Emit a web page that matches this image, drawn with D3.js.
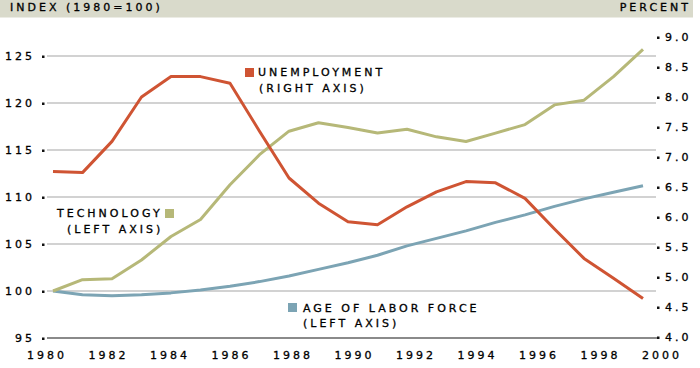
<!DOCTYPE html>
<html>
<head>
<meta charset="utf-8">
<script src="https://cdn.jsdelivr.net/npm/d3@7"></script>
<style>
  body { margin: 0; background: #fff; }
  svg { display: block; }
  text { font-family: "DejaVu Sans", sans-serif; font-size: 11px; fill: #000; stroke: #000; stroke-width: 0.3px; letter-spacing: 3px; }
</style>
</head>
<body>
<div id="plotSect"></div>
<script>
/* global d3 */

// data //

let years = [1980, 1981, 1982, 1983, 1984, 1985, 1986, 1987, 1988, 1989, 1990,
             1991, 1992, 1993, 1994, 1995, 1996, 1997, 1998, 1999, 2000];

// right axis, percent
let unemployment = [6.76, 6.74, 7.26, 8.0, 8.34, 8.34, 8.23, 7.43, 6.65, 6.23, 5.92,
                    5.87, 6.17, 6.42, 6.59, 6.57, 6.31, 5.8, 5.31, 4.98, 4.64];

// left axis, index 1980=100
let technology = [100.0, 101.2, 101.3, 103.3, 105.8, 107.6, 111.3, 114.5, 117.0, 117.9, 117.4,
                  116.8, 117.2, 116.4, 115.9, 116.8, 117.7, 119.8, 120.3, 122.8, 125.7];

let ageLabor = [100.0, 99.6, 99.5, 99.6, 99.8, 100.1, 100.5, 101.0, 101.6, 102.3, 103.0,
                103.8, 104.8, 105.6, 106.4, 107.3, 108.1, 109.0, 109.8, 110.5, 111.2];

let xTickLabels = [1980, 1982, 1984, 1986, 1988, 1990, 1992, 1994, 1996, 1998, 2000];
let leftTicks = [95, 100, 105, 110, 115, 120, 125];
let rightTicks = [4.0, 4.5, 5.0, 5.5, 6.0, 6.5, 7.0, 7.5, 8.0, 8.5, 9.0];

// chart setup //

let SVGwidth = 700,
    SVGheight = 368;

let colRed = "#cf5433",
    colOlive = "#b6b878",
    colBlue = "#7ca4b4";

let svg = d3.select("#plotSect").append("svg")
    .attr("width", SVGwidth)
    .attr("height", SVGheight);

// data points sit a little inside the year labels
let xScale = d3.scaleLinear().domain([1980, 2000]).range([53, 643]);
let xLabelScale = d3.scaleLinear().domain([1980, 2000]).range([45, 660]);
let yLeft = d3.scaleLinear().domain([95, 125]).range([338, 56]);
let yRight = d3.scaleLinear().domain([4, 9]).range([337, 37]);

// header band
svg.append("rect")
    .attr("x", 0).attr("y", 0)
    .attr("width", 693).attr("height", 17.5)
    .style("fill", "#d9dacb");

svg.append("text")
    .attr("x", 10).attr("y", 11)
    .text("INDEX (1980=100)");

svg.append("text")
    .attr("x", 688).attr("y", 11)
    .attr("dx", 3)
    .style("text-anchor", "end")
    .text("PERCENT");

// gridlines
svg.selectAll(".grid")
    .data(leftTicks.filter(function(d) { return d > 95; }))
    .enter().append("line")
    .attr("class", "grid")
    .attr("x1", 47).attr("x2", 656)
    .attr("y1", function(d) { return yLeft(d); })
    .attr("y2", function(d) { return yLeft(d); })
    .style("stroke", "#d2d2d2")
    .style("stroke-width", 2);

svg.append("line")
    .attr("x1", 47).attr("x2", 658)
    .attr("y1", yLeft(95)).attr("y2", yLeft(95))
    .style("stroke", "#8a8a8a")
    .style("stroke-width", 2);

// left axis
let yAxisL = d3.axisLeft(yLeft).tickValues(leftTicks).tickSize(0).tickPadding(11);
let gL = svg.append("g").attr("transform", "translate(43,0)").call(yAxisL);
gL.select(".domain").remove();
gL.selectAll("text").attr("dx", 3).attr("dy", "0.36em")
    .style("font-family", null).style("font-size", null);
gL.selectAll(".tick").append("rect")
    .attr("x", -1).attr("y", -1).attr("width", 2.5).attr("height", 2.5)
    .style("fill", "#111");

// right axis
let yAxisR = d3.axisRight(yRight).tickValues(rightTicks).tickSize(0).tickPadding(7)
    .tickFormat(d3.format(".1f"));
let gR = svg.append("g").attr("transform", "translate(658,0)").call(yAxisR);
gR.select(".domain").remove();
gR.selectAll("text").attr("dy", "0.36em")
    .style("font-family", null).style("font-size", null);
gR.selectAll(".tick").append("rect")
    .attr("x", -1).attr("y", -1).attr("width", 2.5).attr("height", 2.5)
    .style("fill", "#111");

// bottom axis
let xAxis = d3.axisBottom(xLabelScale).tickValues(xTickLabels).tickSize(0).tickPadding(0)
    .tickFormat(d3.format("d"));
let gX = svg.append("g").attr("transform", "translate(0,351)").call(xAxis);
gX.select(".domain").remove();
gX.selectAll("text").attr("dx", 1.5).attr("dy", "0.71em")
    .style("font-family", null).style("font-size", null);

// lines
function addLine(values, yScale, color) {
    let line = d3.line()
        .x(function(d, i) { return xScale(years[i]); })
        .y(function(d) { return yScale(d); });
    svg.append("path")
        .datum(values)
        .attr("d", line)
        .style("fill", "none")
        .style("stroke", color)
        .style("stroke-width", 3)
        .style("stroke-linejoin", "round");
}

addLine(ageLabor, yLeft, colBlue);
addLine(technology, yLeft, colOlive);
addLine(unemployment, yRight, colRed);

// labels
function addLabel(x, y, sqX, sqY, color, line1, line2, x2) {
    svg.append("rect")
        .attr("x", sqX).attr("y", sqY)
        .attr("width", 9).attr("height", 9)
        .style("fill", color);
    svg.append("text").attr("x", x).attr("y", y).text(line1);
    svg.append("text").attr("x", x2).attr("y", y + 15.5).text(line2);
}

addLabel(258, 76, 245, 68, colRed, "UNEMPLOYMENT", "(RIGHT AXIS)", 259);
addLabel(57, 217, 165, 209, colOlive, "TECHNOLOGY", "(LEFT AXIS)", 67);
addLabel(303, 311.5, 288, 303, colBlue, "AGE OF LABOR FORCE", "(LEFT AXIS)", 303);
</script>
</body>
</html>
